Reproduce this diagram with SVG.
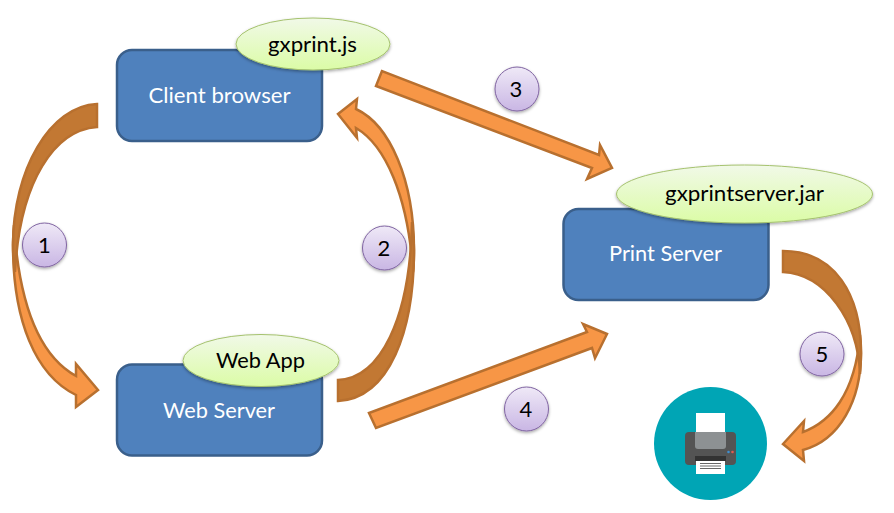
<svg xmlns="http://www.w3.org/2000/svg" width="894" height="513" viewBox="0 0 894 513">
<style>
text{font-family:"Lato","Open Sans","Liberation Sans",sans-serif;font-size:22px;text-anchor:middle}
.box{fill:#4f81bd;stroke:#3a5f8b;stroke-width:2.5}
.w{fill:#fff}
.k{fill:#000}
.ell{fill:url(#g);stroke:#a5c26e;stroke-width:1;filter:url(#s)}
.num{fill:url(#p);stroke:#8064a2;stroke-width:1;filter:url(#s)}
.lt{fill:#f79646;stroke:#b8702f;stroke-width:2.5;stroke-linejoin:miter;stroke-miterlimit:4}
.dk{fill:#c27833;stroke:#b8702f;stroke-width:2.5;stroke-linejoin:miter;stroke-miterlimit:4}
</style>
<defs>
<linearGradient id="g" x1="0" y1="0" x2="0" y2="1"><stop offset="0" stop-color="#f1f9e8"/><stop offset="1" stop-color="#dbfca6"/></linearGradient>
<linearGradient id="p" x1="0" y1="0" x2="0" y2="1"><stop offset="0" stop-color="#efe9f7"/><stop offset="1" stop-color="#c9b6e4"/></linearGradient>
<filter id="s" x="-20%" y="-20%" width="140%" height="150%"><feDropShadow dx="0" dy="1.500" stdDeviation="1.500" flood-color="#000" flood-opacity="0.350"/></filter>
</defs>
<g id="connectors">
<g id="arrow1">
<path class="lt" d="M14,225 C13.500,232 13,240 13,245 C13,320 35,375 76,395 L76,407 L98,390 L76,364 L76,376 C47,360 20,320 14,225Z"/>
<path class="dk" d="M97,104 C50,106 13,170 13,245 C13,255 14,265 15,272 C20,180 55,130 97,127Z"/>
</g>
<g id="arrow2">
<path class="lt" d="M413,272 C414,265 414,258 414,250 C414,180 390,125 356,109 L357,99 L338,114 L357,138 L356,128 C385,145 408,195 413,272Z"/>
<path class="dk" d="M338,380 C380,378 410,320 412,222 C413,232 414,242 414,250 C414,330 390,398 338,401Z"/>
</g>
<polygon id="arrow3" class="lt" points="382,71 376,86 592,168 587,179 612,168 600,145 599,155"/>
<polygon id="arrow4" class="lt" points="369,413 376,428 592,348 595,358 607,334 583,324 587,332"/>
<g id="arrow5">
<path class="lt" d="M860,335 C860.700,341 861,347 861,353 C861,400 840,440 803,450 L804,461 L783,444 L804,421 L803,432 C830,422 855,395 860,335Z"/>
<path class="dk" d="M783,251 C835,251 861,295 861,353 C861,360 860.500,367 860,374 C858,320 825,274 783,272Z"/>
</g>
</g>
<g id="client-browser"><rect class="box" x="117" y="50" width="205" height="91" rx="15"/><text class="w" x="219.500" y="103" textLength="142" lengthAdjust="spacingAndGlyphs">Client browser</text></g>
<g id="gxprint-js"><ellipse class="ell" cx="313" cy="44" rx="77" ry="26"/><text class="k" x="312.500" y="52" textLength="89" lengthAdjust="spacingAndGlyphs">gxprint.js</text></g>
<g id="web-server"><rect class="box" x="117" y="364.500" width="205" height="91" rx="15"/><text class="w" x="219" y="418" textLength="112" lengthAdjust="spacingAndGlyphs">Web Server</text></g>
<g id="web-app"><ellipse class="ell" cx="261" cy="360.500" rx="78" ry="26"/><text class="k" x="260.500" y="368" textLength="89" lengthAdjust="spacingAndGlyphs">Web App</text></g>
<g id="print-server"><rect class="box" x="563.500" y="209" width="205" height="91" rx="15"/><text class="w" x="665.500" y="261" textLength="113" lengthAdjust="spacingAndGlyphs">Print Server</text></g>
<g id="gxprintserver-jar"><ellipse class="ell" cx="744.500" cy="194" rx="128" ry="29"/><text class="k" x="744.500" y="201" textLength="159" lengthAdjust="spacingAndGlyphs">gxprintserver.jar</text></g>
<g id="step1"><circle class="num" cx="44.500" cy="245" r="22"/><text class="k" x="44.500" y="252.500">1</text></g>
<g id="step2"><circle class="num" cx="384.500" cy="248" r="22"/><text class="k" x="384" y="255.500">2</text></g>
<g id="step3"><circle class="num" cx="517" cy="89" r="22"/><text class="k" x="516" y="96.500">3</text></g>
<g id="step4"><circle class="num" cx="526.500" cy="409" r="22"/><text class="k" x="526" y="416.500">4</text></g>
<g id="step5"><circle class="num" cx="822" cy="354" r="22"/><text class="k" x="822" y="361.500">5</text></g>
<g id="printer">
<circle cx="710.500" cy="443.500" r="56.500" fill="#00a5b5"/>
<rect x="696" y="413" width="29" height="22" fill="#fff"/>
<rect x="685" y="432" width="51" height="33" rx="4" fill="#545454"/>
<path d="M695,432 H726 V446 a3,3 0 0 1 -3,3 H698 a3,3 0 0 1 -3,-3Z" fill="#8d9193"/>
<rect x="695" y="456" width="31" height="5" fill="#333"/>
<rect x="696" y="461" width="29" height="13" fill="#fff"/>
<path d="M700,463.500 H721 M700,466 H721 M700,468.500 H721" stroke="#666" stroke-width="1" fill="none"/>
<circle cx="728.500" cy="452" r="1.300" fill="#3f8fd0"/>
<circle cx="732.500" cy="452" r="1.300" fill="#e25b4f"/>
</g>
</svg>
